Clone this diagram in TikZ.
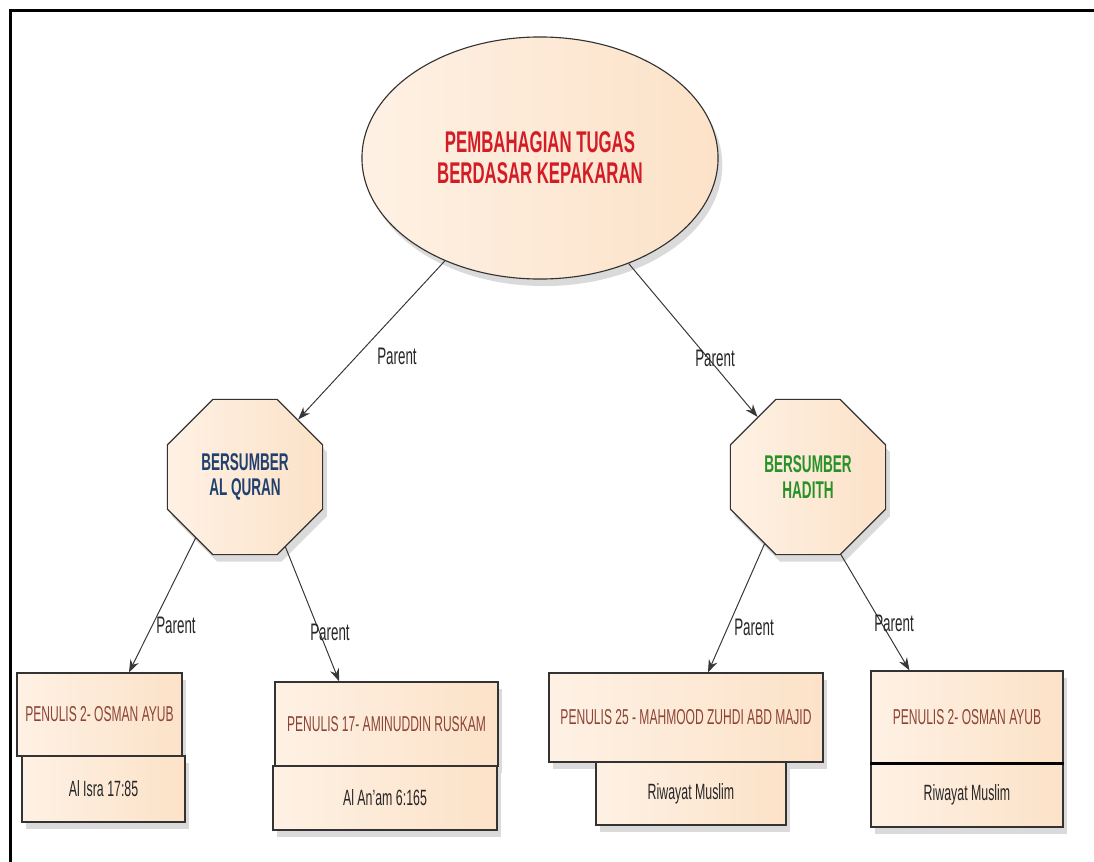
\documentclass[tikz,border=0pt]{standalone}
\usepackage{fontspec}
\setmainfont{Liberation Sans}[FakeStretch=0.56]
\usetikzlibrary{shapes.geometric,arrows.meta,shadows}
\definecolor{peach}{RGB}{252,226,200}
\definecolor{peachlt}{RGB}{254,241,228}
\definecolor{titlered}{RGB}{212,28,38}
\definecolor{quranblue}{RGB}{32,64,110}
\definecolor{hadithgreen}{RGB}{40,145,40}
\definecolor{authbrown}{RGB}{140,68,52}
\definecolor{linegray}{RGB}{55,55,55}

\begin{document}
\begin{tikzpicture}[x=0.025cm,y=-0.025cm,
  fillshade/.style={left color=peachlt,right color=peach,draw=black!80,line width=0.8pt,
    drop shadow={shadow xshift=3pt,shadow yshift=-5pt,fill=black!18,opacity=0.8}},
  rootnode/.style={fillshade,ellipse,minimum width=8.9cm,minimum height=6.05cm,
    align=center,text=titlered,font=\fontsize{21.3}{22}\selectfont\bfseries},
  srcnode/.style={fillshade,regular polygon,regular polygon sides=8,minimum size=4.2cm,
    inner sep=0pt,align=center,font=\fontsize{17.2}{18}\selectfont\bfseries},
  authbox/.style={fillshade,rectangle,inner sep=0pt,text=authbrown,
    font=\fontsize{15.3}{17}\selectfont},
  refbox/.style={fillshade,rectangle,inner sep=0pt,text=black!85,
    font=\fontsize{15.7}{18}\selectfont},
  parentlbl/.style={inner sep=1pt,text=black!85,font=\fontsize{17}{19}\selectfont},
  parentarrow/.style={draw=linegray,line width=0.7pt,-{Stealth[length=9pt,width=6.5pt]}}]
\useasboundingbox (0,0) rectangle (1094,862);
\draw[line width=1.8pt] (10.5,862) -- (10.5,10.5) -- (1094,10.5);

% top
\node[rootnode] (tugas) at (540,158) {PEMBAHAGIAN TUGAS\\BERDASAR KEPAKARAN};

% sources
\node[srcnode,text=quranblue] (alq) at (245,477) {BERSUMBER\\AL QURAN};
\node[srcnode,text=hadithgreen] (hadith) at (808,477) {BERSUMBER\\HADITH};

% writers
\node[authbox,minimum width=4.125cm,minimum height=2.075cm] (box1) at (99.5,714.5) {PENULIS 2- OSMAN AYUB};
\node[refbox,minimum width=4.075cm,minimum height=1.65cm] (ref1) at (103.5,789) {Al Isra 17:85};
\node[authbox,minimum width=5.575cm,minimum height=2.1cm] (box2) at (386.5,724) {PENULIS 17- AMINUDDIN RUSKAM};
\node[refbox,minimum width=5.6cm,minimum height=1.6cm] (ref2) at (385,798) {Al An'am 6:165};
\node[authbox,minimum width=6.85cm,minimum height=2.225cm] (box3) at (686,717.5) {PENULIS 25 - MAHMOOD ZUHDI ABD MAJID};
\node[refbox,minimum width=4.75cm,minimum height=1.575cm] (ref3) at (691,793.5) {Riwayat Muslim};
\node[authbox,minimum width=4.8cm,minimum height=2.3cm] (box4) at (967,717) {PENULIS 2- OSMAN AYUB};
\node[refbox,minimum width=4.8cm,minimum height=1.6cm] (ref4) at (967,795) {Riwayat Muslim};
\draw[line width=2pt] (box4.south west) -- (box4.south east);

% links
\draw[parentarrow] (tugas) -- (alq);
\draw[parentarrow] (tugas) -- (hadith);
\draw[parentarrow] (alq.231) -- (box1.55);
\draw[parentarrow] (alq.300) -- (box2.138);
\draw[parentarrow] (hadith.237) -- (box3.64);
\draw[parentarrow] (hadith.293) -- (box4.141);

\node[parentlbl] (lblq) at (397,356) {Parent};
\node[parentlbl] (lblh) at (715,358) {Parent};
\node[parentlbl] (lbl1) at (176,625) {Parent};
\node[parentlbl] (lbl2) at (330,632) {Parent};
\node[parentlbl] (lbl3) at (754,627) {Parent};
\node[parentlbl] (lbl4) at (894,623) {Parent};
\end{tikzpicture}
\end{document}
